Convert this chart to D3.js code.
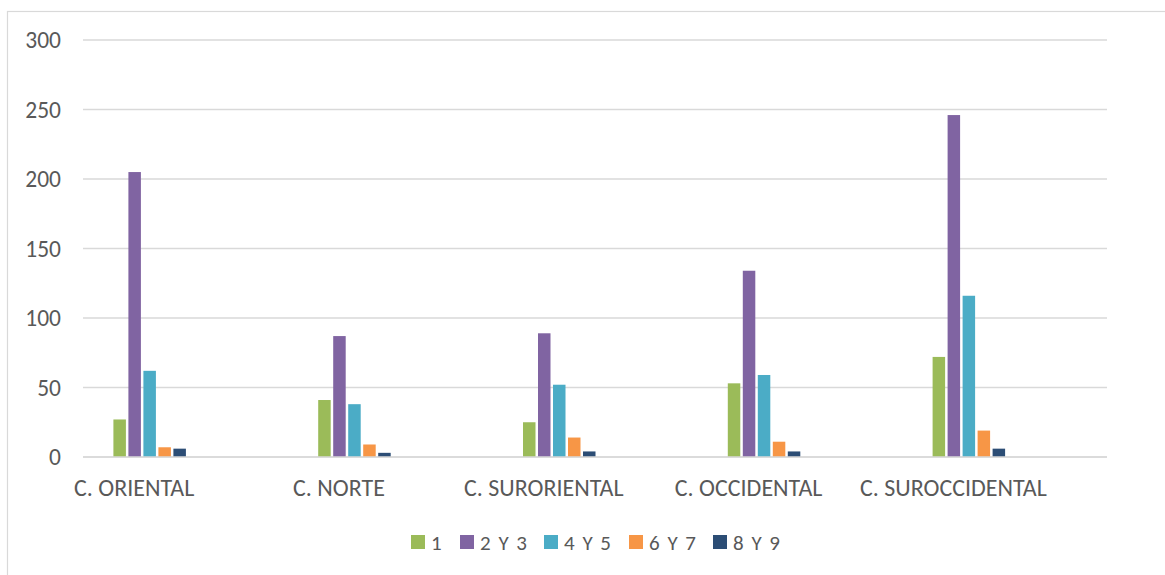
<!DOCTYPE html>
<html>
<head>
<meta charset="utf-8">
<script src="https://cdn.jsdelivr.net/npm/d3@7"></script>
<style>
  body { margin: 0; background: #fff; }
  svg { display: block; }
  text { font-family: Carlito, Calibri, "Noto Sans", sans-serif; fill: #595959; }
</style>
</head>
<body>
<svg class="chart"></svg>
<script>
const categories = ["C. ORIENTAL", "C. NORTE", "C. SURORIENTAL", "C. OCCIDENTAL", "C. SUROCCIDENTAL"]
const seriesNames = ["1", "2 Y 3", "4 Y 5", "6 Y 7", "8 Y 9"]
const serie1 = [27, 41, 25, 53, 72]
const serie23 = [205, 87, 89, 134, 246]
const serie45 = [62, 38, 52, 59, 116]
const serie67 = [7, 9, 14, 11, 19]
const serie89 = [6, 3, 4, 4, 6]
const yTicks = [0, 50, 100, 150, 200, 250, 300]
const colors = ["#9BBB59", "#8064A2", "#4BACC6", "#F79646", "#2C4D75"]

;(function() {
  const width = 1165
  const height = 575
  const plot = { left: 83, right: 1107, top: 40, bottom: 457 }

  const values = [serie1, serie23, serie45, serie67, serie89]
  const data = categories.map((c, i) => ({
    cat: c,
    vals: seriesNames.map((s, j) => ({ s, v: values[j][i], color: colors[j] }))
  }))

  const $svg = d3.select(".chart").attr("width", width).attr("height", height)

  // chart frame
  $svg.append("rect")
    .attr("x", 7.5).attr("y", 11.5)
    .attr("width", width + 20).attr("height", height + 20)
    .attr("fill", "none").attr("stroke", "#D9D9D9").attr("stroke-width", 1.2)

  const x = d3.scaleBand().domain(categories).range([plot.left, plot.right])
  const bw = x.bandwidth()
  const sub = d3.scaleBand().domain(seriesNames).range([bw * 0.146, bw * 0.146 + 75])
  const y = d3.scaleLinear().domain([0, 300]).range([plot.bottom, plot.top])

  // gridlines
  $svg.append("g")
    .selectAll("line")
    .data(yTicks)
    .join("line")
    .attr("x1", plot.left).attr("x2", plot.right)
    .attr("y1", d => y(d)).attr("y2", d => y(d))
    .attr("stroke", "#D9D9D9").attr("stroke-width", 1.5)

  // y labels
  $svg.append("g")
    .selectAll("text")
    .data(yTicks)
    .join("text")
    .attr("x", 61).attr("y", d => y(d))
    .attr("dy", "0.35em")
    .attr("text-anchor", "end")
    .attr("font-size", 23.5)
    .text(d => d)

  // bars
  const groups = $svg.append("g")
    .selectAll("g")
    .data(data)
    .join("g")
    .attr("transform", d => `translate(${x(d.cat)},0)`)

  groups.selectAll("rect")
    .data(d => d.vals)
    .join("rect")
    .attr("x", d => sub(d.s) + 0.5)
    .attr("width", sub.bandwidth() - 2.5)
    .attr("y", d => y(d.v))
    .attr("height", d => y(0) - y(d.v))
    .attr("fill", d => d.color)

  // baseline
  $svg.append("line")
    .attr("x1", plot.left).attr("x2", plot.right)
    .attr("y1", y(0)).attr("y2", y(0))
    .attr("stroke", "#D9D9D9").attr("stroke-width", 1.5)

  // category labels
  $svg.append("g")
    .selectAll("text")
    .data(categories)
    .join("text")
    .attr("x", d => x(d) + bw / 4)
    .attr("y", 496)
    .attr("text-anchor", "middle")
    .attr("font-size", 24)
    .text(d => d)

  // legend
  const legendX = [411, 460, 544, 629, 713]
  const $legend = $svg.append("g")
    .selectAll("g")
    .data(seriesNames)
    .join("g")
    .attr("transform", (d, i) => `translate(${legendX[i]},535)`)
  $legend.append("rect")
    .attr("width", 14).attr("height", 14)
    .attr("fill", (d, i) => colors[i])
  $legend.append("text")
    .attr("x", 20).attr("y", 14.5)
    .attr("font-size", 21)
    .attr("letter-spacing", 1.5)
    .text(d => d)
})()
</script>
</body>
</html>
